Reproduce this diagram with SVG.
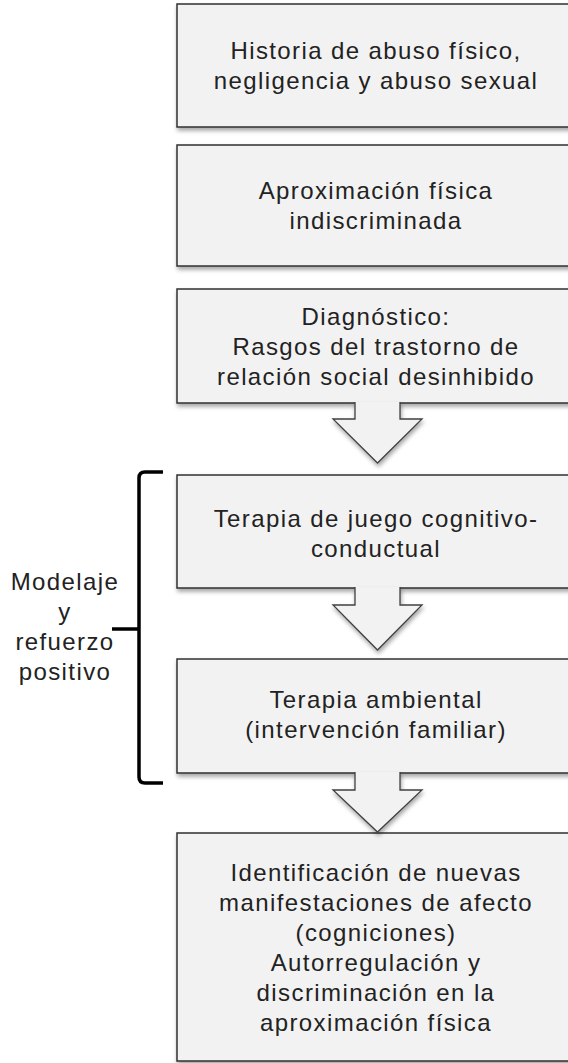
<svg xmlns="http://www.w3.org/2000/svg" width="568" height="1063" viewBox="0 0 568 1063">
<defs>
<filter id="sh" x="-10%" y="-10%" width="120%" height="130%">
<feDropShadow dx="1" dy="3" stdDeviation="2" flood-color="#000" flood-opacity="0.35"/>
</filter>
<style>
.box{fill:#f2f2f2;stroke:#303030;stroke-width:1.5;filter:url(#sh)}
.arr{fill:#f2f2f2;stroke:#404040;stroke-width:1.3;filter:url(#sh)}
.t{font-family:"Liberation Sans",Arial,sans-serif;font-size:24px;letter-spacing:1.4px;fill:#222;text-anchor:middle}
.br{fill:none;stroke:#000;stroke-width:3.5;stroke-linecap:butt}
</style>
</defs>
<rect width="568" height="1063" fill="#fff"/>
<g id="n1"><rect class="box" x="177" y="4" width="401" height="123"/>
<text class="t"><tspan x="376" y="59">Historia de abuso físico,</tspan><tspan x="376" y="89">negligencia y abuso sexual</tspan></text></g>
<g id="n2"><rect class="box" x="177" y="145" width="401" height="121"/>
<text class="t"><tspan x="376" y="199">Aproximación física</tspan><tspan x="376" y="229">indiscriminada</tspan></text></g>
<g id="n3"><rect class="box" x="177" y="289" width="401" height="114"/>
<text class="t"><tspan x="376" y="325">Diagnóstico:</tspan><tspan x="376" y="355">Rasgos del trastorno de</tspan><tspan x="376" y="385">relación social desinhibido</tspan></text></g>
<g id="n4"><rect class="box" x="177" y="475" width="401" height="113"/>
<text class="t"><tspan x="376" y="527">Terapia de juego cognitivo-</tspan><tspan x="376" y="557">conductual</tspan></text></g>
<g id="n5"><rect class="box" x="177" y="659" width="401" height="114"/>
<text class="t"><tspan x="376" y="708">Terapia ambiental</tspan><tspan x="376" y="738">(intervención familiar)</tspan></text></g>
<g id="n6"><rect class="box" x="177" y="833" width="401" height="228"/>
<text class="t"><tspan x="376" y="881">Identificación de nuevas</tspan><tspan x="376" y="911">manifestaciones de afecto</tspan><tspan x="376" y="941">(cogniciones)</tspan><tspan x="376" y="971">Autorregulación y</tspan><tspan x="376" y="1001">discriminación en la</tspan><tspan x="376" y="1031">aproximación física</tspan></text></g>
<g id="connectors">
<path class="arr" d="M355,402 V419 H333 L377.5,463 L422,419 H400 V402"/>
<path class="arr" d="M355,587 V605 H333 L377.5,650 L422,605 H400 V587"/>
<path class="arr" d="M355,772 V790 H333 L377.5,832 L422,790 H400 V772"/>
</g>
<g id="bracket">
<path class="br" d="M163,472 H145 Q139,472 139,478 V777 Q139,783 145,783 H163"/>
<path class="br" d="M139,629 H112"/>
<text class="t"><tspan x="65" y="590">Modelaje</tspan><tspan x="65" y="620">y</tspan><tspan x="65" y="650">refuerzo</tspan><tspan x="65" y="680">positivo</tspan></text>
</g>
</svg>
